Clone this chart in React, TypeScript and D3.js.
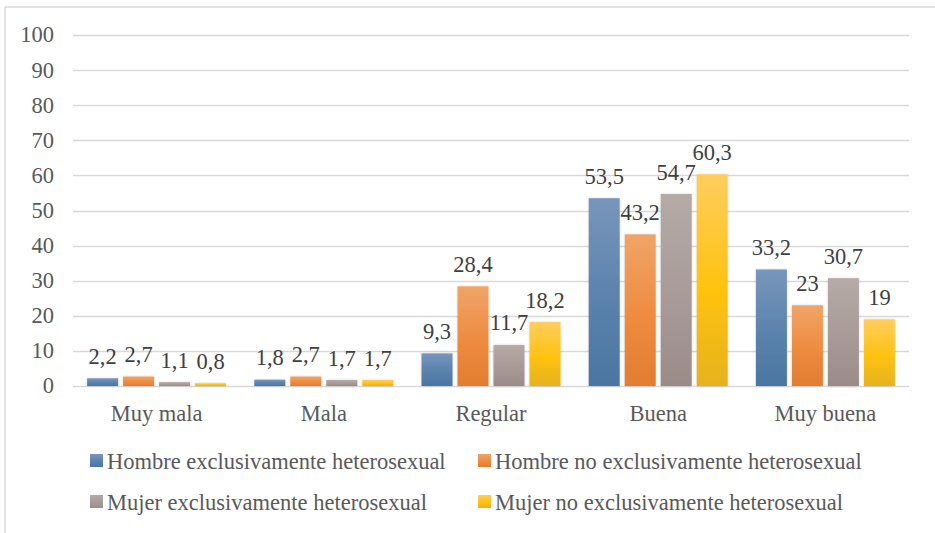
import { useEffect, useRef } from "react";
import * as d3 from "d3";

const categories = ["Muy mala", "Mala", "Regular", "Buena", "Muy buena"];
const seriesNames = [
  "Hombre exclusivamente heterosexual",
  "Hombre no exclusivamente heterosexual",
  "Mujer exclusivamente heterosexual",
  "Mujer no exclusivamente heterosexual",
];
const hombreExcl = [2.2, 1.8, 9.3, 53.5, 33.2];
const hombreNoExcl = [2.7, 2.7, 28.4, 43.2, 23];
const mujerExcl = [1.1, 1.7, 11.7, 54.7, 30.7];
const mujerNoExcl = [0.8, 1.7, 18.2, 60.3, 19];
const yTicks = [0, 10, 20, 30, 40, 50, 60, 70, 80, 90, 100];

// top / mid / bottom of each bar gradient
const palette = [
  ["#7896bb", "#5a82ad", "#4a76a1"],
  ["#f0a468", "#ee8b40", "#e27d30"],
  ["#b5aaa6", "#a89b97", "#9a8b87"],
  ["#ffcd5e", "#ffc20f", "#e6b21e"],
];

const W = 935;
const H = 533;
const FONT = "Times New Roman, Liberation Serif, DejaVu Serif, serif";

export default function App() {
  const ref = useRef<SVGSVGElement>(null);

  useEffect(() => {
    const svg = d3.select(ref.current);
    svg.selectAll("*").remove();

    const values = [hombreExcl, hombreNoExcl, mujerExcl, mujerNoExcl];

    const x0 = d3.scaleBand<string>().domain(categories).range([73, 909]).paddingInner(0.1687).paddingOuter(0.0844);
    const x1 = d3
      .scaleBand<number>()
      .domain(d3.range(seriesNames.length))
      .range([0, x0.bandwidth()])
      .paddingInner(5 / 36);
    const y = d3.scaleLinear().domain([0, 100]).range([386, 35]);

    const defs = svg.append("defs");
    palette.forEach((c, i) => {
      const g = defs.append("linearGradient").attr("id", `g${i}`).attr("x1", 0).attr("y1", 0).attr("x2", 0).attr("y2", 1);
      g.append("stop").attr("offset", "0%").attr("stop-color", c[0]);
      g.append("stop").attr("offset", "55%").attr("stop-color", c[1]);
      g.append("stop").attr("offset", "100%").attr("stop-color", c[2]);
    });
    const f = defs.append("filter").attr("id", "sh").attr("x", "-20%").attr("y", "-20%").attr("width", "140%").attr("height", "140%");
    f.append("feDropShadow").attr("dx", 0).attr("dy", 0).attr("stdDeviation", 1.2).attr("flood-color", "#000").attr("flood-opacity", 0.18);

    // frame (only top and left visible)
    svg.append("line").attr("x1", 5).attr("x2", W).attr("y1", 7).attr("y2", 7).attr("stroke", "#d9d9d9").attr("stroke-width", 1.5);
    svg.append("line").attr("x1", 5).attr("x2", 5).attr("y1", 7).attr("y2", H).attr("stroke", "#d9d9d9").attr("stroke-width", 1.5);

    // grid
    svg
      .append("g")
      .selectAll("line")
      .data(yTicks)
      .join("line")
      .attr("x1", 73)
      .attr("x2", 909)
      .attr("y1", (d) => Math.round(y(d)) + 0.5)
      .attr("y2", (d) => Math.round(y(d)) + 0.5)
      .attr("stroke", "#d9d9d9")
      .attr("stroke-width", 1.3);

    const all = svg.append("g").style("font-family", FONT).style("font-size", "22.5px");

    all
      .append("g")
      .selectAll("text")
      .data(yTicks)
      .join("text")
      .attr("x", 54)
      .attr("y", (d) => y(d))
      .attr("dy", "0.33em")
      .attr("text-anchor", "end")
      .attr("fill", "#595959")
      .text((d) => String(d));

    const fmt = (v: number) => String(v).replace(".", ",");

    const groups = all
      .append("g")
      .selectAll("g")
      .data(categories)
      .join("g")
      .attr("transform", (c) => `translate(${x0(c)},0)`);

    groups
      .selectAll("rect")
      .data((_, ci) => values.map((s, si) => ({ si, v: s[ci] })))
      .join("rect")
      .attr("x", (d) => x1(d.si)!)
      .attr("width", x1.bandwidth())
      .attr("y", (d) => y(d.v))
      .attr("height", (d) => y(0) - y(d.v))
      .attr("fill", (d) => `url(#g${d.si})`)
      .attr("filter", "url(#sh)");

    groups
      .selectAll("text")
      .data((_, ci) => values.map((s, si) => ({ si, v: s[ci] })))
      .join("text")
      .attr("x", (d) => x1(d.si)! + x1.bandwidth() / 2)
      .attr("y", (d) => y(d.v) - 14.5)
      .attr("text-anchor", "middle")
      .attr("fill", "#404040")
      .text((d) => fmt(d.v));

    all
      .append("g")
      .selectAll("text")
      .data(categories)
      .join("text")
      .attr("x", (c) => x0(c)! + x0.bandwidth() / 2)
      .attr("y", 421)
      .attr("text-anchor", "middle")
      .attr("fill", "#595959")
      .text((c) => c);

    // legend, 2 x 2
    const legX = [90, 478];
    const legY = [469, 510];
    const leg = all
      .append("g")
      .selectAll("g")
      .data(seriesNames)
      .join("g")
      .attr("transform", (_, i) => `translate(${legX[i % 2]},${legY[Math.floor(i / 2)]})`);
    leg
      .append("rect")
      .attr("x", 0)
      .attr("y", -15)
      .attr("width", 13)
      .attr("height", 13)
      .attr("fill", (_, i) => `url(#g${i})`);
    leg
      .append("text")
      .attr("x", 17)
      .attr("y", 0)
      .attr("fill", "#595959")
      .text((d) => d);
  }, []);

  return (
    <div style={{ position: "absolute", left: 0, top: 0 }}>
      <svg ref={ref} width={W} height={H} style={{ display: "block", background: "#fff" }} />
    </div>
  );
}
